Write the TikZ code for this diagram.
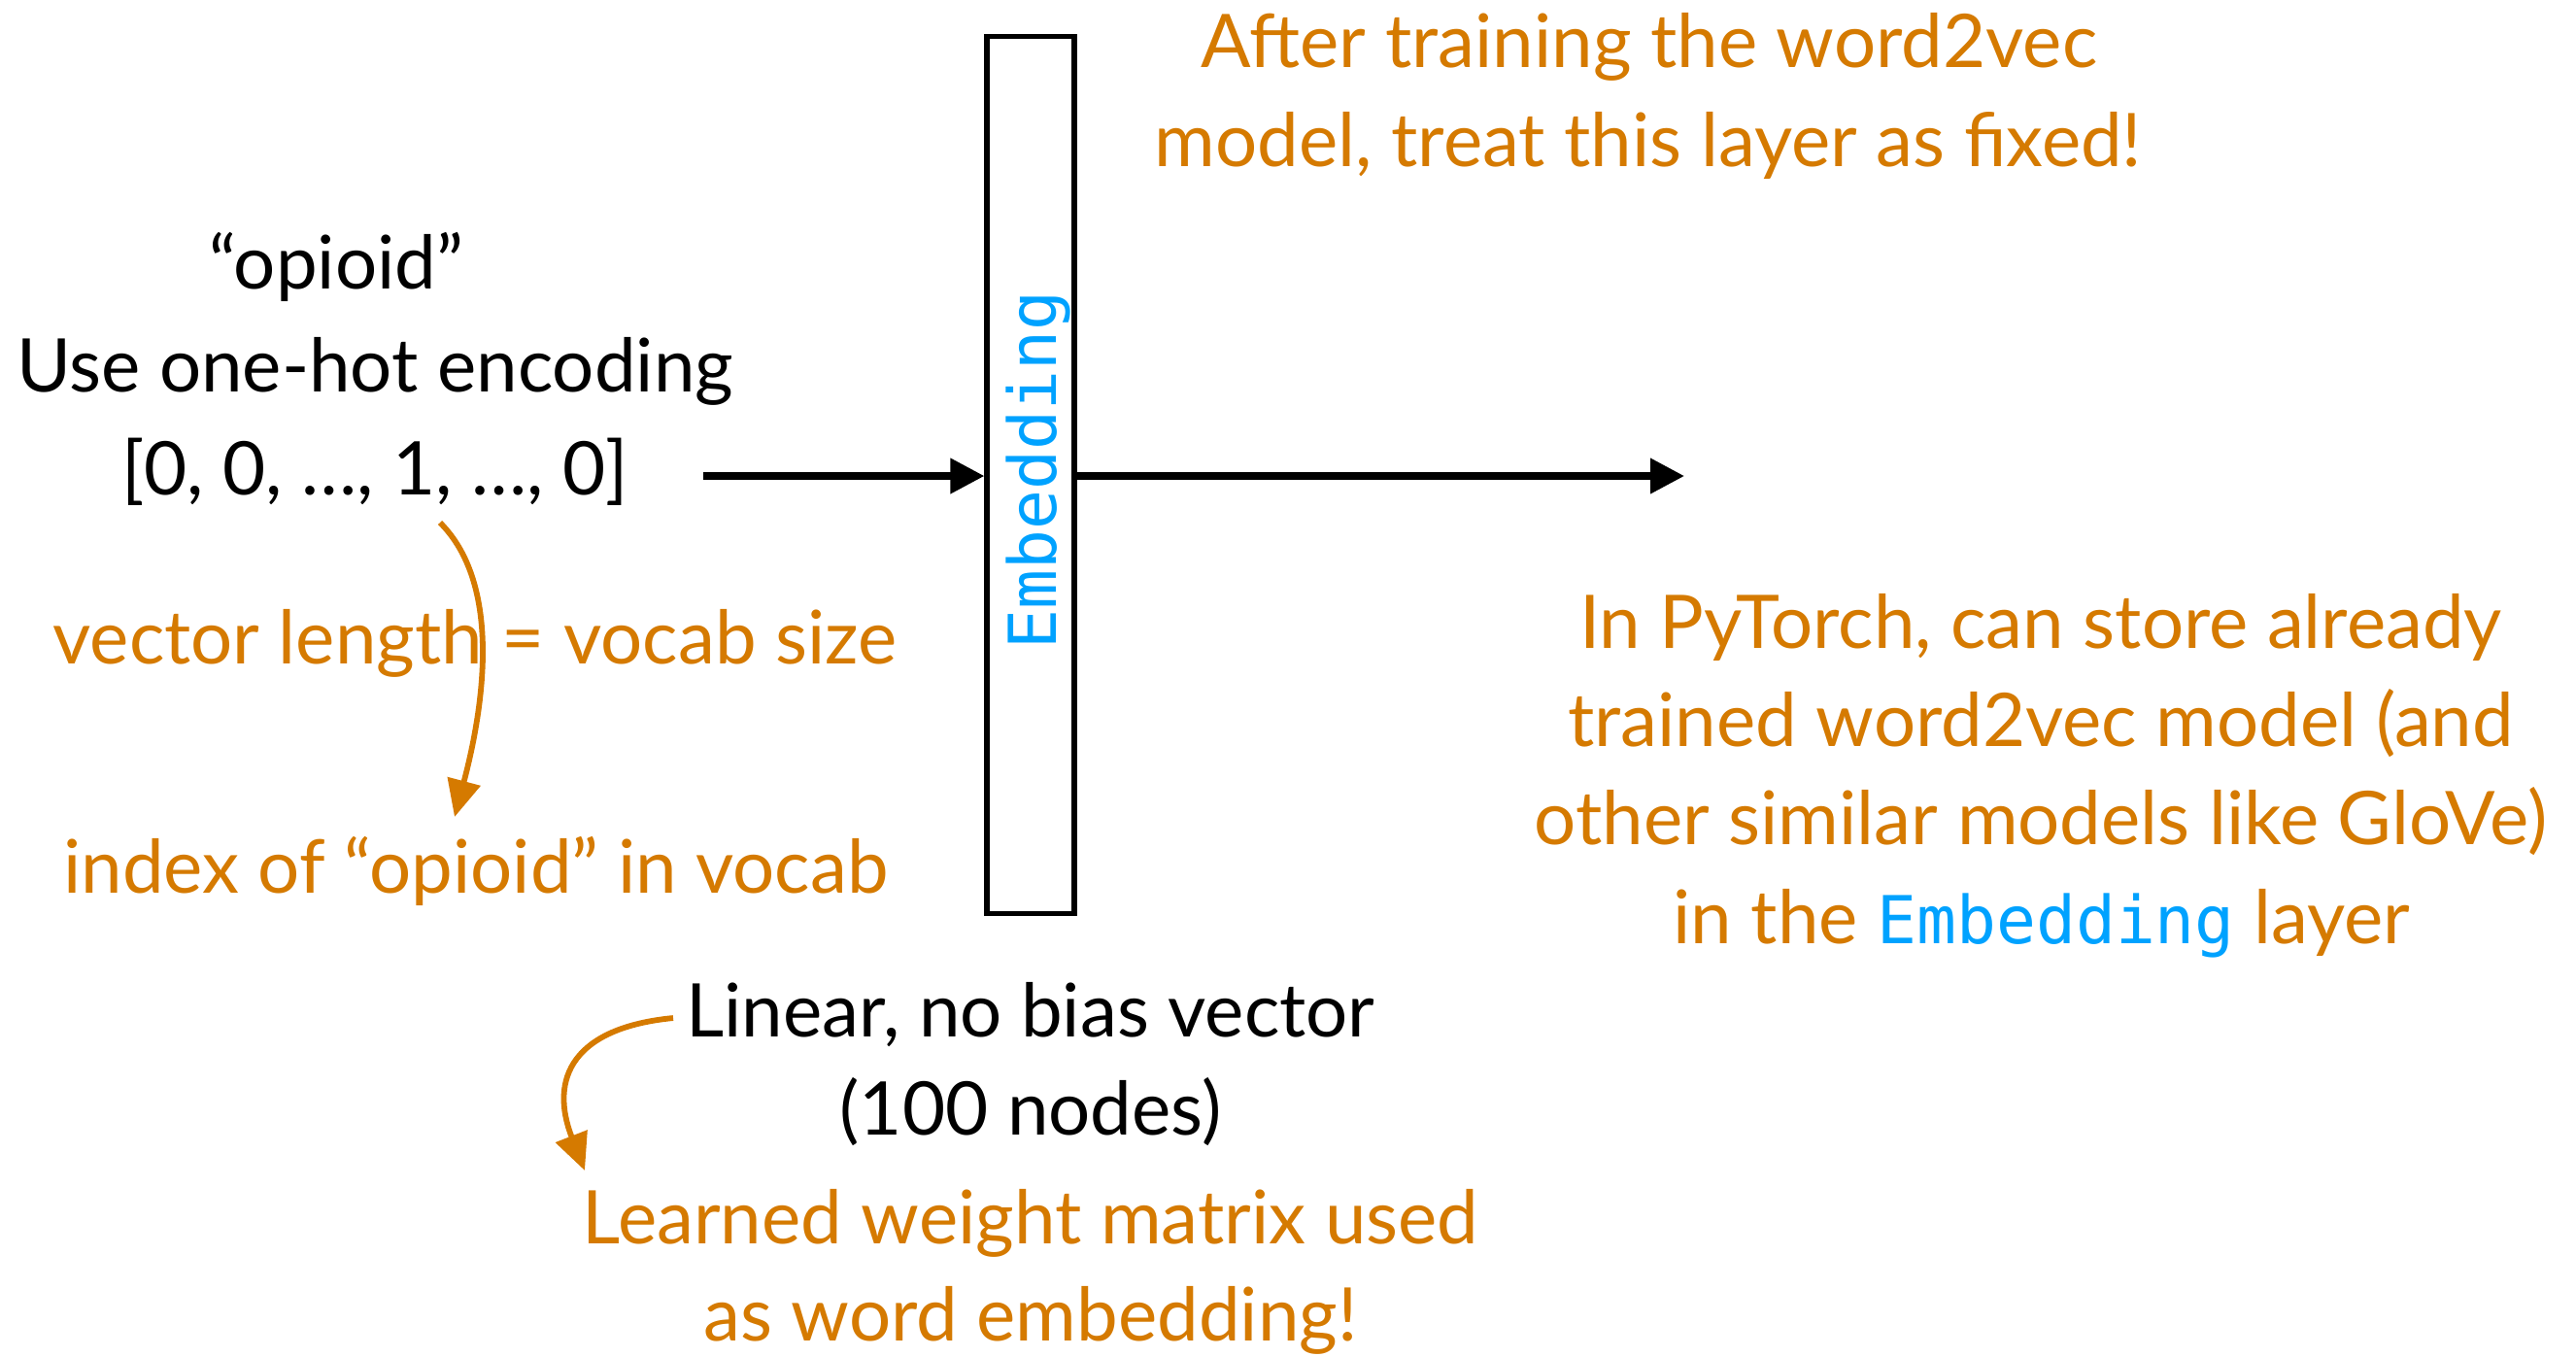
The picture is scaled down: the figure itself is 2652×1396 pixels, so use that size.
\documentclass[tikz,border=0pt]{standalone}
\usepackage{fontspec}
\setmainfont{Lato}
\newfontfamily\codefont{DejaVu Sans Mono}
\usetikzlibrary{arrows.meta}
\definecolor{noteorange}{RGB}{213,122,0}
\definecolor{codeblue}{RGB}{0,162,255}
\newcommand{\codeword}[1]{{\codefont\fontsize{17}{20}\selectfont\color{codeblue}#1}}

\begin{document}
\begin{tikzpicture}[x=0.25pt,y=-0.25pt,
  txt/.style={font=\fontsize{19.05}{22}\selectfont, inner sep=0pt, anchor=base},
  note/.style={txt, text=noteorange},
  flow/.style={line width=1.8pt, -{Triangle[length=8.75pt,width=8.75pt]}},
  hint/.style={line width=1.45pt, draw=noteorange, -{Triangle[length=9.5pt,width=8.5pt]}},
  layerbox/.style={draw, line width=1.3pt, inner sep=0pt,
    minimum width=22.5pt, minimum height=225.75pt}
]
\fill[white] (0,0) rectangle (2652,1396);
\useasboundingbox (0,0) rectangle (2652,1396);

% embedding layer
\node[layerbox] (emb) at (1061,489) {};
\node[rotate=90, anchor=base, inner sep=0pt, text=codeblue,
      font=\codefont\fontsize{17}{20}\selectfont] (emblabel) at (1087,484) {Embedding};

% input description
\node[txt] (word) at (346,297) {“opioid”};
\node[txt] (onehot) at (386,403) {Use one-hot encoding};
\node[txt] (vec) at (386,509) {[0, 0, …, 1, …, 0]};
\node[note] (veclen) at (489,683) {vector length = vocab size};
\node[note] (index) at (490,919) {index of “opioid” in vocab};

% notes on the right
\node[note] (fixed1) at (1698,69) {After training the word2vec};
\node[note] (fixed2) at (1697,171) {model, treat this layer as fixed!};
\node[note] (pt1) at (2101,667) {In PyTorch, can store already};
\node[note] (pt2) at (2101,768) {trained word2vec model (and};
\node[note] (pt3) at (2101,869) {other similar models like GloVe)};
\node[note] (pt4) at (2102,971) {in the \codeword{Embedding} layer};

% layer description
\node[txt] (lin) at (1061,1067) {Linear, no bias vector};
\node[txt] (nodes) at (1061,1168) {(100 nodes)};
\node[note] (learn1) at (1061,1280) {Learned weight matrix used};
\node[note] (learn2) at (1061,1380) {as word embedding!};

% data flow
\coordinate (vecend) at (724,490);
\coordinate (out) at (1734,490);
\draw[flow] (vecend) -- (vecend -| emb.west);
\draw[flow] (out -| emb.east) -- (out);

% annotation arrows
\coordinate (c1s) at (453,538);
\coordinate (c1e) at (468,841);
\draw[hint] (c1s) .. controls (515,600) and (500,720) .. (c1e);
\coordinate (c2s) at (693,1048);
\coordinate (c2e) at (602,1205);
\draw[hint] (c2s) .. controls (590,1058) and (565,1110) .. (c2e);
\end{tikzpicture}
\end{document}
